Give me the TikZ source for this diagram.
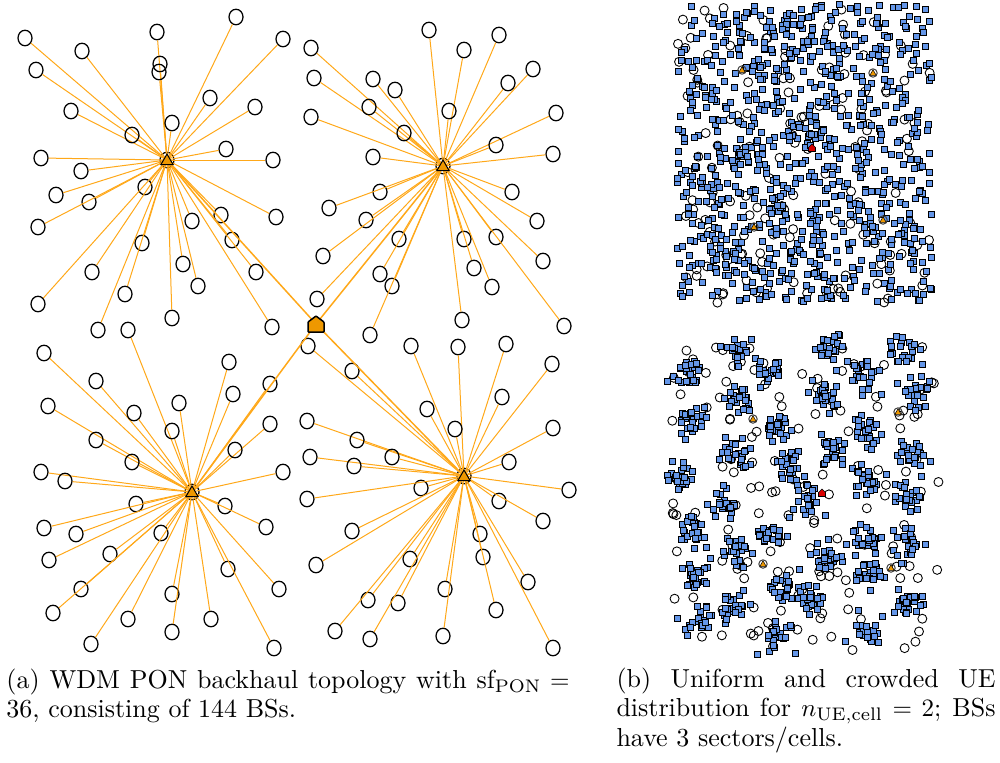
\documentclass[tikz,border=0pt]{standalone}
\usepackage{fontspec}
\usetikzlibrary{shapes.geometric}
\definecolor{linkor}{RGB}{255,168,25}
\definecolor{hubor}{RGB}{238,152,0}
\definecolor{uefill}{RGB}{100,150,232}
\begin{document}
\begin{tikzpicture}[x=0.4pt,y=-0.4pt,
 bs/.style={draw=black,line width=0.5pt,ellipse,minimum width=5.6pt,minimum height=6.2pt,inner sep=0pt},
 link/.style={draw=linkor,line width=0.4pt},
 trunk/.style={draw=linkor,line width=0.6pt},
 hubtri/.style={regular polygon,regular polygon sides=3,draw=black,line width=0.4pt,fill=hubor,minimum size=5.6pt,inner sep=0pt},
 house/.style={draw=black,line width=0.6pt,fill=hubor,rounded corners=0.3pt},
 ue/.style={draw=black,line width=0.3pt,fill=uefill},
 sbs/.style={draw=black,line width=0.35pt},
 shub/.style={draw=black!75,line width=0.4pt},
 stri/.style={draw=black,line width=0.2pt,fill=hubor},
 sred/.style={draw=black,line width=0.25pt,fill=red!85!black},
 captext/.style={anchor=north west,inner sep=0pt,align=justify,font=\fontsize{10.4pt}{11.8pt}\selectfont}
]
\useasboundingbox (0,0) rectangle (1000,762);

% ---------- (a) WDM PON topology ----------
\coordinate (c) at (316,324);
\node[bs] (h1) at (167,160) {};
\node[bs] (h2) at (443,166) {};
\node[bs] (h3) at (192,492) {};
\node[bs] (h4) at (464,476) {};

\foreach \n/\x/\y in {1/25/38, 2/82/51, 3/36/70, 4/157/32, 5/236/17, 6/283/39, 7/160/64, 8/159/72, 9/210/98, 10/255/107, 11/71/111, 12/172/123, 13/132/135, 14/226/149, 15/41/158, 16/273/160, 17/81/171, 18/56/195, 19/145/187, 20/89/202, 21/38/227, 22/221/215, 23/276/217, 24/192/221, 25/232/240, 26/142/243, 27/183/264, 28/92/272, 29/256/272, 30/198/286, 31/125/294, 32/38/304, 33/172/318, 34/98/330, 35/272/327}
 {\node[bs] (a\n) at (\x,\y) {}; \draw[link] (h1.center) -- (a\n);}

\foreach \n/\x/\y in {1/311/48, 2/314/78, 3/311/117, 4/429/30, 5/499/35, 6/464/50, 7/533/69, 8/373/79, 9/395/90, 10/508/83, 11/369/107, 12/449/111, 13/556/113, 14/404/133, 15/496/145, 16/373/157, 17/553/154, 18/380/192, 19/512/192, 20/329/208, 21/366/220, 22/537/221, 23/399/239, 24/464/239, 25/496/237, 26/323/256, 27/543/261, 28/474/268, 29/380/274, 30/392/286, 31/492/287, 32/317/299, 33/462/320, 34/564/326, 35/370/335}
 {\node[bs] (b\n) at (\x,\y) {}; \draw[link] (h2.center) -- (b\n);}

\foreach \n/\x/\y in {1/128/330, 2/44/353, 3/229/362, 4/96/381, 5/270/384, 6/233/394, 7/48/406, 8/179/403, 9/134/413, 10/270/424, 11/172/431, 12/96/440, 13/235/450, 14/132/462, 15/41/472, 16/65/481, 17/283/472, 18/136/504, 19/225/506, 20/44/528, 21/76/534, 22/266/527, 23/161/533, 24/49/560, 25/110/554, 26/228/569, 27/81/589, 28/279/589, 29/172/594, 30/53/613, 31/128/619, 32/211/619, 33/172/632, 34/91/644, 35/274/648}
 {\node[bs] (d\n) at (\x,\y) {}; \draw[link] (h3.center) -- (d\n);}

\foreach \n/\x/\y in {1/308/346, 2/411/346, 3/458/347, 4/506/344, 5/552/364, 6/352/371, 7/502/397, 8/427/409, 9/307/421, 10/455/429, 11/553/428, 12/357/440, 13/310/457, 14/392/457, 15/354/466, 16/509/462, 17/569/490, 18/421/488, 19/307/499, 20/499/501, 21/543/521, 22/352/531, 23/316/565, 24/480/534, 25/410/559, 26/483/557, 27/528/582, 28/368/600, 29/445/589, 30/398/603, 31/496/610, 32/335/631, 33/370/639, 34/443/636, 35/553/648}
 {\node[bs] (e\n) at (\x,\y) {}; \draw[link] (h4.center) -- (e\n);}

\foreach \h in {1,2,3,4} {\draw[trunk] (c) -- (h\h.center);}
\foreach \h in {1,2,3,4} {\node[hubtri] (t\h) at ([yshift=-0.4pt]h\h.center) {};}
\draw[house] ([shift={(-8,8)}]c) -- ([shift={(-8,-2)}]c) -- ([shift={(0,-8)}]c) -- ([shift={(8,-2)}]c) -- ([shift={(8,8)}]c) -- cycle;

% ---------- (b) top: uniform ----------
\pgfmathsetseed{7}
\foreach \i in {1,...,144} {
  \pgfmathsetmacro\bx{678+255*rnd}\pgfmathsetmacro\by{5+298*rnd}
  \draw[sbs] (\bx,\by) circle[radius=4.5];
}
\foreach \i in {1,...,864} {
  \pgfmathsetmacro\ux{677+255*rnd}\pgfmathsetmacro\uy{4+297*rnd}
  \draw[ue] (\ux,\uy) ++(-3,-3) rectangle ++(6,6);
}
\foreach \x/\y in {742/70, 873/73, 883/220, 754/227} {
  \draw[shub] (\x,\y) circle[radius=4.2];
  \draw[stri] (\x-3.2,\y+2.4) -- (\x+3.2,\y+2.4) -- (\x,\y-3.2) -- cycle;
}
\draw[sred] (808.5,151.5) -- (808.5,147.5) -- (812,144) -- (815.5,147.5) -- (815.5,151.5) -- cycle;

% ---------- (b) bottom: crowded ----------
\foreach \i in {1,...,144} {
  \pgfmathsetmacro\bx{670+270*rnd}\pgfmathsetmacro\by{344+308*rnd}
  \draw[sbs] (\bx,\by) circle[radius=4.5];
}
\foreach \cx/\cy in {687/372, 738/352, 773/373, 830/352, 865/377, 907/353,
  737/400, 822/398, 915/395, 692/422, 777/430, 867/432,
  740/453, 832/448, 913/455, 678/475, 788/468, 867/478,
  727/503, 808/505, 907/497, 693/532, 770/533, 863/538,
  740/550, 828/555, 907/547, 698/575, 783/585, 868/572,
  735/605, 812/603, 908/603, 697/620, 778/635, 863/632} {
  \foreach \k in {1,...,24} {
    \pgfmathsetmacro\ux{\cx+16*(rnd+rnd+rnd-1.5)}\pgfmathsetmacro\uy{\cy+16*(rnd+rnd+rnd-1.5)}
    \draw[ue] (\ux,\uy) ++(-3,-3) rectangle ++(6,6);
  }
}
\foreach \x/\y in {753/419, 898/412, 763/564, 891/568} {
  \draw[shub] (\x,\y) circle[radius=4.2];
  \draw[stri] (\x-3.2,\y+2.4) -- (\x+3.2,\y+2.4) -- (\x,\y-3.2) -- cycle;
}
\draw[sred] (818.5,496.5) -- (818.5,492.5) -- (822,489) -- (825.5,492.5) -- (825.5,496.5) -- cycle;

% ---------- captions ----------
\node[captext,text width=228.8pt] (capa) at (6,668) {(a) WDM PON backhaul topology with $\mathrm{sf}_{\mathrm{PON}}={}$\linebreak 36, consisting of 144 BSs.};
\node[captext,text width=151.6pt] (capb) at (616,667) {(b) Uniform and crowded UE\linebreak distribution for $n_{\mathrm{UE,cell}}=2$; BSs\linebreak have 3 sectors/cells.};
\end{tikzpicture}
\end{document}
